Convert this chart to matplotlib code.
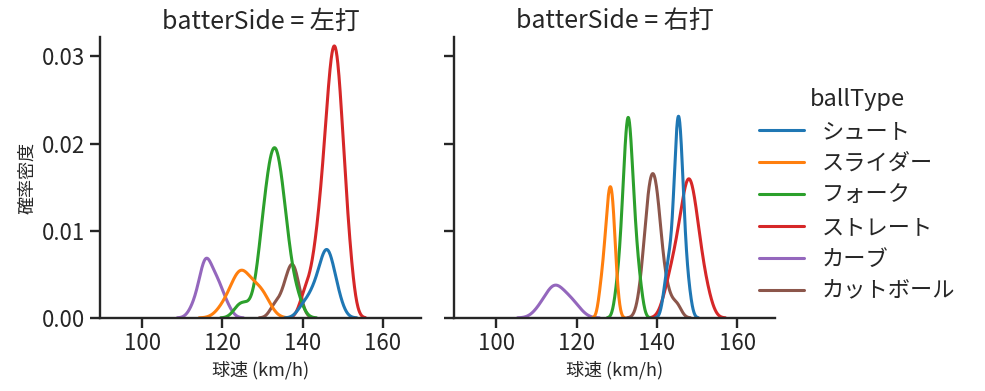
import matplotlib
matplotlib.use("Agg")
import matplotlib.pyplot as plt
import seaborn as sns
import pandas as pd

sides = ["左打", "右打"]
ball_types = ["シュート", "スライダー", "フォーク", "ストレート", "カーブ", "カットボール"]

# pitch speeds (km/h) per ball type, vs left-handed batters
L_shoot = [140, 142, 143, 144, 145, 145, 146, 146, 146, 147, 147, 148, 149]
L_slider = [120, 122, 123, 124, 124, 125, 125, 126, 127, 128, 129, 130, 131]
L_fork = [124, 126, 129, 129, 130, 130, 130, 131, 131, 131, 131,
          132, 132, 132, 132, 132, 133, 133, 133, 133, 133, 133,
          134, 134, 134, 134, 134, 135, 135, 135, 135, 136, 136, 136, 137, 138, 139]
L_straight = [140, 141, 142, 143, 143, 144, 144, 144, 145, 145, 145, 145,
              146, 146, 146, 146, 146, 146, 147, 147, 147, 147, 147, 147, 147, 147,
              148, 148, 148, 148, 148, 148, 148, 148, 148,
              149, 149, 149, 149, 149, 149, 149, 149, 150, 150, 150, 150, 150,
              151, 151, 151, 152, 152]
L_curve = [113, 115, 115, 116, 116, 116, 117, 118, 119, 119, 121]
L_cutter = [133, 135, 136, 137, 137, 138, 138, 139]

# vs right-handed batters
R_shoot = [142, 143, 143, 144, 144, 145, 145, 145, 145, 145, 145, 145,
           146, 146, 146, 146, 146, 146, 147, 147, 148]
R_slider = [126, 127, 127, 128, 128, 128, 128, 129, 129, 129, 129, 130]
R_fork = [130, 131, 131, 132, 132, 132, 132, 132, 133, 133, 133, 133, 133, 133, 133,
          134, 134, 134, 134, 135, 135, 136]
R_straight = [142, 143, 144, 144, 145, 145, 146, 146, 146, 147, 147, 147, 147,
              148, 148, 148, 148, 148, 149, 149, 149, 149, 150, 150, 150, 151, 151, 152, 153]
R_curve = [111, 113, 114, 115, 115, 117, 118, 120]
R_cutter = [136, 137, 137, 138, 138, 138, 138, 138, 139, 139, 139, 139,
            140, 140, 140, 140, 140, 141, 141, 142, 143, 145]

left = [L_shoot, L_slider, L_fork, L_straight, L_curve, L_cutter]
right = [R_shoot, R_slider, R_fork, R_straight, R_curve, R_cutter]

rows = []
for side, groups in zip(sides, [left, right]):
    for bt, speeds in zip(ball_types, groups):
        for s in speeds:
            rows.append({"batterSide": side, "ballType": bt, "speed": s})
df = pd.DataFrame(rows)

sns.set_theme(style="ticks", palette="tab10")
plt.rcParams['font.family'] = ['Noto Sans CJK JP', 'DejaVu Sans']
plt.rcParams['axes.linewidth'] = 1.7
plt.rcParams['xtick.major.width'] = 1.7
plt.rcParams['ytick.major.width'] = 1.7
plt.rcParams['xtick.major.size'] = 7
plt.rcParams['ytick.major.size'] = 7
plt.rcParams['xtick.labelsize'] = 16
plt.rcParams['ytick.labelsize'] = 16

g = sns.displot(df, x="speed", hue="ballType", col="batterSide", kind="kde",
                col_order=sides, hue_order=ball_types, height=3.5, aspect=1,
                linewidth=2.2)
g.figure.set_size_inches(9.85, 3.91)
g.figure.subplots_adjust(left=0.1015, right=0.787, top=0.905, bottom=0.187, wspace=0.103)
g.set(xlim=(89.5, 169.5), ylim=(0, 0.0322), xticks=[100, 120, 140, 160],
      yticks=[0, 0.01, 0.02, 0.03])
g.set_titles("{col_var} = {col_name}", size=18)
g.set_axis_labels("球速 (km/h)", "確率密度", fontsize=13)
for ax in g.axes.flat:
    ax.yaxis.set_major_formatter(matplotlib.ticker.FormatStrFormatter('%.2f'))

sns.move_legend(g, "center right", bbox_to_anchor=(0.99, 0.5), fontsize=16,
                title_fontsize=17, frameon=False, labelspacing=0.4)

g.figure.savefig("out.png", dpi=100)
